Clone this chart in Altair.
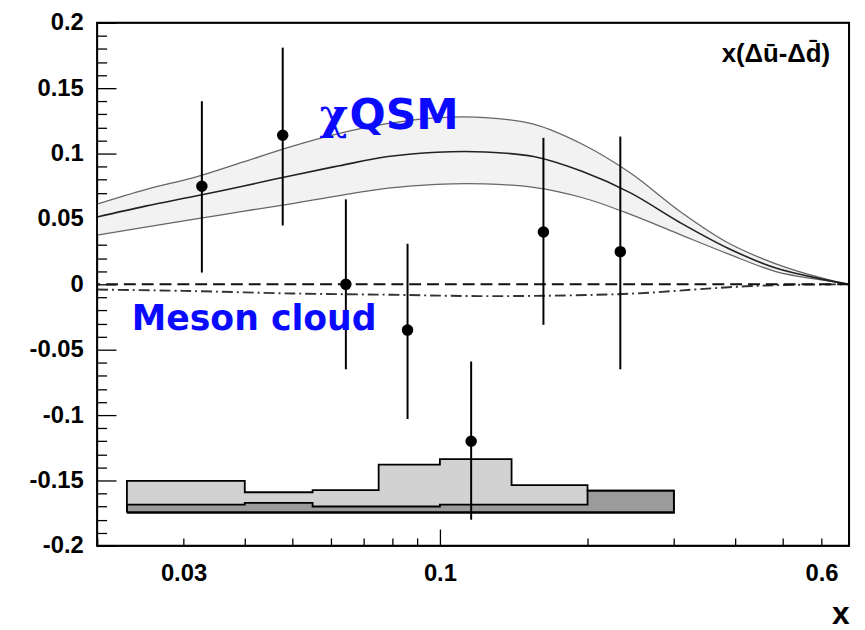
import altair as alt
import pandas as pd

# ---------------- data ----------------
pt_x  = [0.0327, 0.0478, 0.0643, 0.0859, 0.1158, 0.1626, 0.2333]
pt_y  = [0.075, 0.114, 0.000, -0.035, -0.120, 0.040, 0.025]
pt_lo = [0.009, 0.045, -0.065, -0.103, -0.180, -0.031, -0.065]
pt_hi = [0.140, 0.181, 0.065, 0.031, -0.059, 0.112, 0.113]

qsm_x   = [0.0200, 0.0251, 0.0316, 0.0396, 0.0497, 0.0624, 0.0784, 0.0984, 0.1236,
           0.1552, 0.1948, 0.2447, 0.3073, 0.3858, 0.4842, 0.6080, 0.6830]
qsm_hi  = [0.0614, 0.0725, 0.0818, 0.0934, 0.1053, 0.1154, 0.1230, 0.1273, 0.1275,
           0.1225, 0.1073, 0.0851, 0.0563, 0.0320, 0.0157, 0.0043, 0.0000]
qsm_mid = [0.0515, 0.0598, 0.0674, 0.0750, 0.0831, 0.0907, 0.0977, 0.1010, 0.1012,
           0.0977, 0.0864, 0.0699, 0.0477, 0.0278, 0.0124, 0.0036, 0.0000]
qsm_lo  = [0.0376, 0.0437, 0.0498, 0.0558, 0.0616, 0.0679, 0.0735, 0.0765, 0.0768,
           0.0742, 0.0664, 0.0535, 0.0384, 0.0235, 0.0098, 0.0030, 0.0000]

mes_x = [0.020, 0.030, 0.050, 0.080, 0.120, 0.180, 0.250, 0.330, 0.420, 0.520, 0.683]
mes_y = [-0.004, -0.005, -0.007, -0.008, -0.009, -0.0085, -0.007, -0.004, -0.0015, -0.0004, 0.0]

sys_edges = [0.023, 0.04, 0.055, 0.075, 0.1, 0.14, 0.2, 0.3]
sys_total = [-0.1503, -0.159, -0.1573, -0.1379, -0.1336, -0.1535, -0.1578]
sys_part  = [-0.1684, -0.1672, -0.1699, -0.1699, -0.1684, -0.1684, -0.1578]
sys_base  = -0.1745

x_labels = [0.03, 0.1, 0.6]
x_major  = [0.1]
x_minor  = [0.02, 0.03, 0.04, 0.05, 0.06, 0.07, 0.08, 0.09, 0.2, 0.3, 0.4, 0.5, 0.6]
y_major  = [-0.2, -0.15, -0.1, -0.05, 0.0, 0.05, 0.1, 0.15, 0.2]
y_minor  = [-0.19, -0.18, -0.17, -0.16, -0.14, -0.13, -0.12, -0.11, -0.09, -0.08, -0.07, -0.06,
            -0.04, -0.03, -0.02, -0.01, 0.01, 0.02, 0.03, 0.04, 0.06, 0.07, 0.08, 0.09,
            0.11, 0.12, 0.13, 0.14, 0.16, 0.17, 0.18, 0.19]

# ---------------- tables ----------------
pts = pd.DataFrame({"x": pt_x, "y": pt_y, "lo": pt_lo, "hi": pt_hi})
qsm = pd.DataFrame({"x": qsm_x, "mid": qsm_mid, "hi": qsm_hi, "lo": qsm_lo})
mes = pd.DataFrame({"x": mes_x, "y": mes_y})
hist = pd.DataFrame({"x": sys_edges,
                     "tot": sys_total + [sys_total[-1]],
                     "part": sys_part + [sys_part[-1]],
                     "base": [sys_base] * len(sys_edges)})


def outline(tops):
    xs, ys = [sys_edges[0]], [sys_base]
    for i, t in enumerate(tops):
        xs += [sys_edges[i], sys_edges[i + 1]]
        ys += [t, t]
    xs += [sys_edges[-1], sys_edges[0]]
    ys += [sys_base, sys_base]
    return pd.DataFrame({"x": xs, "y": ys, "o": list(range(len(xs)))})


FONT = "Liberation Sans"
TXT = "DejaVu Sans"
xs = alt.Scale(type="log", domain=[0.02, 0.683], nice=False)
ys = alt.Scale(domain=[-0.2, 0.2], nice=False)

neg_fmt = "(datum.value < -1e-9 ? '-' : '') + format(abs(datum.value), '~g')"

ax_x_lab = alt.Axis(values=x_labels, ticks=False, tickSize=0, grid=False, domain=False,
                    labelFont=FONT, labelFontSize=24, labelFontWeight="bold", labelColor="black",
                    labelPadding=16, labelFlush=False, labelOverlap=False,
                    labelExpr="format(datum.value, '~g')",
                    title="x", titleFont=FONT, titleFontSize=32, titleFontWeight="bold",
                    titleColor="black", titleAnchor="end", titlePadding=13, orient="bottom")
ax_x_maj = alt.Axis(values=x_major, tickSize=17, offset=-17, labels=False, domain=False,
                    grid=False, title="", tickColor="black", tickWidth=1.3, orient="bottom")
ax_x_min = alt.Axis(values=x_minor, tickSize=8, offset=-8, labels=False, domain=False,
                    grid=False, title="", tickColor="black", tickWidth=1.3, orient="bottom")
ax_y_lab = alt.Axis(values=y_major, ticks=False, tickSize=0, grid=False, domain=False,
                    labelFont=FONT, labelFontSize=24, labelFontWeight="bold", labelColor="black",
                    labelPadding=14, labelFlush=False, labelOverlap=False,
                    labelExpr=neg_fmt, title="", orient="left")
ax_y_maj = alt.Axis(values=y_major, tickSize=19, offset=-19, labels=False, domain=False,
                    grid=False, title="", tickColor="black", tickWidth=1.3, orient="left")
ax_y_min = alt.Axis(values=y_minor, tickSize=9.5, offset=-9.5, labels=False, domain=False,
                    grid=False, title="", tickColor="black", tickWidth=1.3, orient="left")


def X(f, axis=None):
    if axis is None:
        return alt.X(f"{f}:Q", scale=xs, axis=None)
    return alt.X(f"{f}:Q", scale=xs, axis=axis)


def Y(f, axis=None):
    if axis is None:
        return alt.Y(f"{f}:Q", scale=ys, axis=None)
    return alt.Y(f"{f}:Q", scale=ys, axis=axis)


CURVE = "catmull-rom"
band = alt.Chart(qsm).mark_area(color="#f2f2f2", interpolate=CURVE).encode(
    x=X("x", ax_x_lab), y=Y("lo", ax_y_lab), y2="hi:Q")
upper = alt.Chart(qsm).mark_line(color="#666666", strokeWidth=1.3, interpolate=CURVE).encode(
    x=X("x", ax_x_min), y=Y("hi", ax_y_min))
lower = alt.Chart(qsm).mark_line(color="#666666", strokeWidth=1.3, interpolate=CURVE).encode(
    x=X("x"), y=Y("lo"))
mid = alt.Chart(qsm).mark_line(color="#222222", strokeWidth=1.6, interpolate=CURVE).encode(
    x=X("x", ax_x_maj), y=Y("mid", ax_y_maj))
meson = alt.Chart(mes).mark_line(color="#333333", strokeWidth=1.9, strokeDash=[11, 4, 2, 4],
                                 interpolate=CURVE).encode(x=X("x"), y=Y("y"))
zero = alt.Chart(pd.DataFrame({"y": [0.0]})).mark_rule(color="#111111", strokeWidth=2,
                                                       strokeDash=[12, 6]).encode(y=Y("y"))
h_tot = alt.Chart(hist).mark_area(color="#d2d2d2", interpolate="step-after").encode(
    x=X("x"), y=Y("base"), y2="tot:Q")
h_part = alt.Chart(hist).mark_area(color="#9b9b9b", interpolate="step-after").encode(
    x=X("x"), y=Y("base"), y2="part:Q")
o_tot = alt.Chart(outline(sys_total)).mark_line(color="black", strokeWidth=1.8).encode(
    x=X("x"), y=Y("y"), order="o:Q")
o_part = alt.Chart(outline(sys_part)).mark_line(color="black", strokeWidth=1.8).encode(
    x=X("x"), y=Y("y"), order="o:Q")
err = alt.Chart(pts).mark_rule(color="black", strokeWidth=2).encode(
    x=X("x"), y=Y("lo"), y2="hi:Q")
dots = alt.Chart(pts).mark_circle(color="black", opacity=1, size=135).encode(
    x=X("x"), y=Y("y"))

# plot frame, tied to the plot size
box = alt.Chart(pd.DataFrame({"k": [0]})).mark_rect(
    fillOpacity=0, stroke="black", strokeWidth=1.6).encode(
    x=alt.value(0), x2=alt.value("width"), y=alt.value(0), y2=alt.value("height"))

BLUE = "#0a0aff"
t_chi = alt.Chart(pd.DataFrame({"x": [0.0650], "y": [0.119], "t": ["\u03c7"]})).mark_text(
    font="DejaVu Serif", fontSize=44, fontWeight="bold", color=BLUE, align="right",
    baseline="alphabetic").encode(x=X("x"), y=Y("y"), text="t:N")
t_qsm = alt.Chart(pd.DataFrame({"x": [0.0654], "y": [0.119], "t": ["QSM"]})).mark_text(
    font=TXT, fontSize=43, fontWeight="bold", color=BLUE, align="left",
    baseline="alphabetic").encode(x=X("x"), y=Y("y"), text="t:N")
t2 = alt.Chart(pd.DataFrame({"x": [0.0418], "y": [-0.0348], "t": ["Meson cloud"]})).mark_text(
    font=TXT, fontSize=35, fontWeight="bold", color=BLUE, align="center",
    baseline="alphabetic").encode(x=X("x"), y=Y("y"), text="t:N")
t3 = alt.Chart(pd.DataFrame({"x": [0.625], "y": [0.170],
                             "t": ["x(\u0394\u016b-\u0394d\u0304)"]})).mark_text(
    font=FONT, fontSize=26, fontWeight="bold", color="black", align="right",
    baseline="alphabetic").encode(x=X("x"), y=Y("y"), text="t:N")

chart = alt.layer(band, upper, lower, mid, meson, zero, h_tot, h_part, o_tot, o_part,
                  err, dots, box, t_chi, t_qsm, t2, t3).resolve_axis(
    x="independent", y="independent").properties(
    width=759, height=528,
    background="white",
    autosize=alt.AutoSizeParams(type="none"),
    padding={"left": 90, "top": 12, "right": 8, "bottom": 82},
).configure_view(stroke="black", strokeWidth=2)

chart.save("out.html", embed_options={"renderer": "svg", "actions": False})
